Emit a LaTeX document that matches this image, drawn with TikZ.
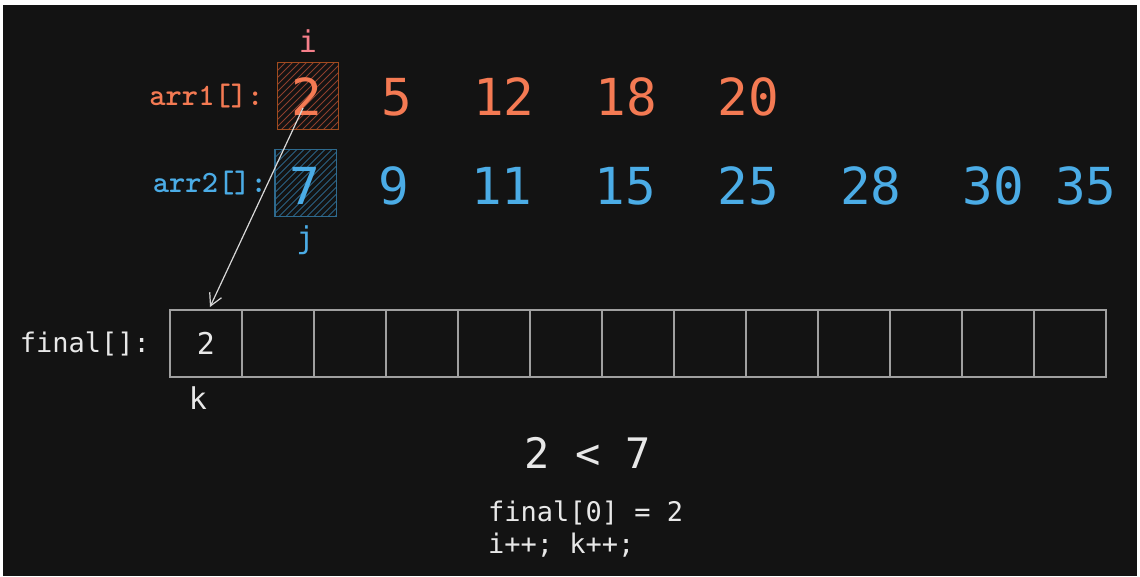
\documentclass[tikz,border=0pt]{standalone}
\usepackage{fontspec}
\newfontfamily\codefont{DejaVu Sans Mono}
\usetikzlibrary{positioning,calc,arrows.meta}

\definecolor{bgdark}{HTML}{131313}
\definecolor{arrorange}{HTML}{F47A53}
\definecolor{arrblue}{HTML}{4BACE6}
\definecolor{ipink}{HTML}{F57F8A}
\definecolor{orangeline}{HTML}{A04B1E}
\definecolor{orangehatch}{HTML}{8E3F2D}
\definecolor{blueline}{HTML}{2E6A8E}
\definecolor{bluehatch}{HTML}{2B6184}
\definecolor{cellgray}{HTML}{A0A0A0}
\definecolor{softwhite}{HTML}{E8E8E8}

\begin{document}
\begin{tikzpicture}[x=1pt, y=-1pt,
	num/.style={inner sep=0pt, outer sep=0pt, font=\codefont\fontsize{51}{60}\selectfont},
	arrlabel/.style={inner sep=0pt, outer sep=0pt, font=\ttfamily\bfseries\fontsize{31}{36}\selectfont},
	idx/.style={inner sep=0pt, outer sep=0pt, font=\codefont\fontsize{30}{36}\selectfont},
	hatchbox/.style={minimum width=60pt, minimum height=66pt, inner sep=0pt, line width=1.3pt},
	hatch/.style={line width=1pt},
	cell/.style={draw=cellgray, line width=1.5pt, minimum width=72pt, minimum height=67pt,
		inner sep=0pt, outer sep=0pt, text=softwhite, font=\codefont\fontsize{30}{36}\selectfont},
	code/.style={inner sep=0pt, outer sep=0pt, text=softwhite, font=\codefont\fontsize{27}{32}\selectfont},
	pointer/.style={-{Straight Barb[length=12pt, width=13pt]}, line width=1.2pt, draw=softwhite!85!gray}]

	\useasboundingbox (0,0) rectangle (1140,576);
	\fill[white] (0,0) rectangle (1140,576);
	\fill[bgdark] (3,5) rectangle (1137,576);

	%%% Highlight boxes %%%
	\node[hatchbox] (box1) at (308,96) {};
	\node[hatchbox] (box2) at (305.5,183) {};

	\begin{scope}
		\clip (box1.south west) rectangle (box1.north east);
		\foreach \d in {-70,-63,...,70}
			\draw[hatch, orangehatch] ($(box1.center)+(\d-40,40)$) -- ++(80,-80);
	\end{scope}
	\begin{scope}
		\clip (box2.south west) rectangle (box2.north east);
		\foreach \d in {-70,-63,...,70}
			\draw[hatch, bluehatch] ($(box2.center)+(\d-40,40)$) -- ++(80,-80);
	\end{scope}
	\draw[orangeline, line width=1.3pt] (box1.south west) rectangle (box1.north east);
	\draw[blueline, line width=1.3pt] (box2.south west) rectangle (box2.north east);

	%%% arr1 %%%
	\node[num, text=arrorange] (a1) at (307,97) {2};
	\node[num, text=arrorange, right=59pt of a1] (a2) {5};
	\node[num, text=arrorange, right=61pt of a2] (a3) {12};
	\node[num, text=arrorange, right=61pt of a3] (a4) {18};
	\node[num, text=arrorange, right=61pt of a4] (a5) {20};

	\node[arrlabel, text=arrorange, left=14pt of box1] (lbl1) {arr1[]:};
	\node[idx, text=ipink, above=10pt of box1] (i) {i};

	%%% arr2 %%%
	\node[num, text=arrblue] (b1) at (305,186) {7};
	\node[num, text=arrblue, right=58pt of b1] (b2) {9};
	\node[num, text=arrblue, right=62pt of b2] (b3) {11};
	\node[num, text=arrblue, right=62pt of b3] (b4) {15};
	\node[num, text=arrblue, right=62pt of b4] (b5) {25};
	\node[num, text=arrblue, right=61pt of b5] (b6) {28};
	\node[num, text=arrblue, right=61pt of b6] (b7) {30};
	\node[num, text=arrblue, right=31pt of b7] (b8) {35};

	\node[arrlabel, text=arrblue, left=8pt of box2] (lbl2) {arr2[]:};
	\node[idx, text=arrblue, below=9pt of box2] (j) {j};

	%%% final %%%
	\node[cell] (f1) at (206,343.5) {2};
	\node[cell, right=0pt of f1] (f2) {};
	\node[cell, right=0pt of f2] (f3) {};
	\node[cell, right=0pt of f3] (f4) {};
	\node[cell, right=0pt of f4] (f5) {};
	\node[cell, right=0pt of f5] (f6) {};
	\node[cell, right=0pt of f6] (f7) {};
	\node[cell, right=0pt of f7] (f8) {};
	\node[cell, right=0pt of f8] (f9) {};
	\node[cell, right=0pt of f9] (f10) {};
	\node[cell, right=0pt of f10] (f11) {};
	\node[cell, right=0pt of f11] (f12) {};
	\node[cell, right=0pt of f12] (f13) {};

	\node[code, left=20pt of f1] (lbl3) {final[]:};
	\node[idx, text=softwhite, below=10pt of f1, xshift=-8pt] (k) {k};

	\draw[pointer] ($(a1.center)+(-4,11)$) -- ($(f1.north)+(4,-3)$);

	%%% Step %%%
	\node[code, font=\codefont\fontsize{42}{50}\selectfont] (cmp) at (588,453) {2 < 7};
	\node[code, anchor=west] (code1) at (488,513) {final[0] = 2};
	\node[code, below=8pt of code1.south west, anchor=north west] (code2) {i++; k++;};

\end{tikzpicture}
\end{document}
